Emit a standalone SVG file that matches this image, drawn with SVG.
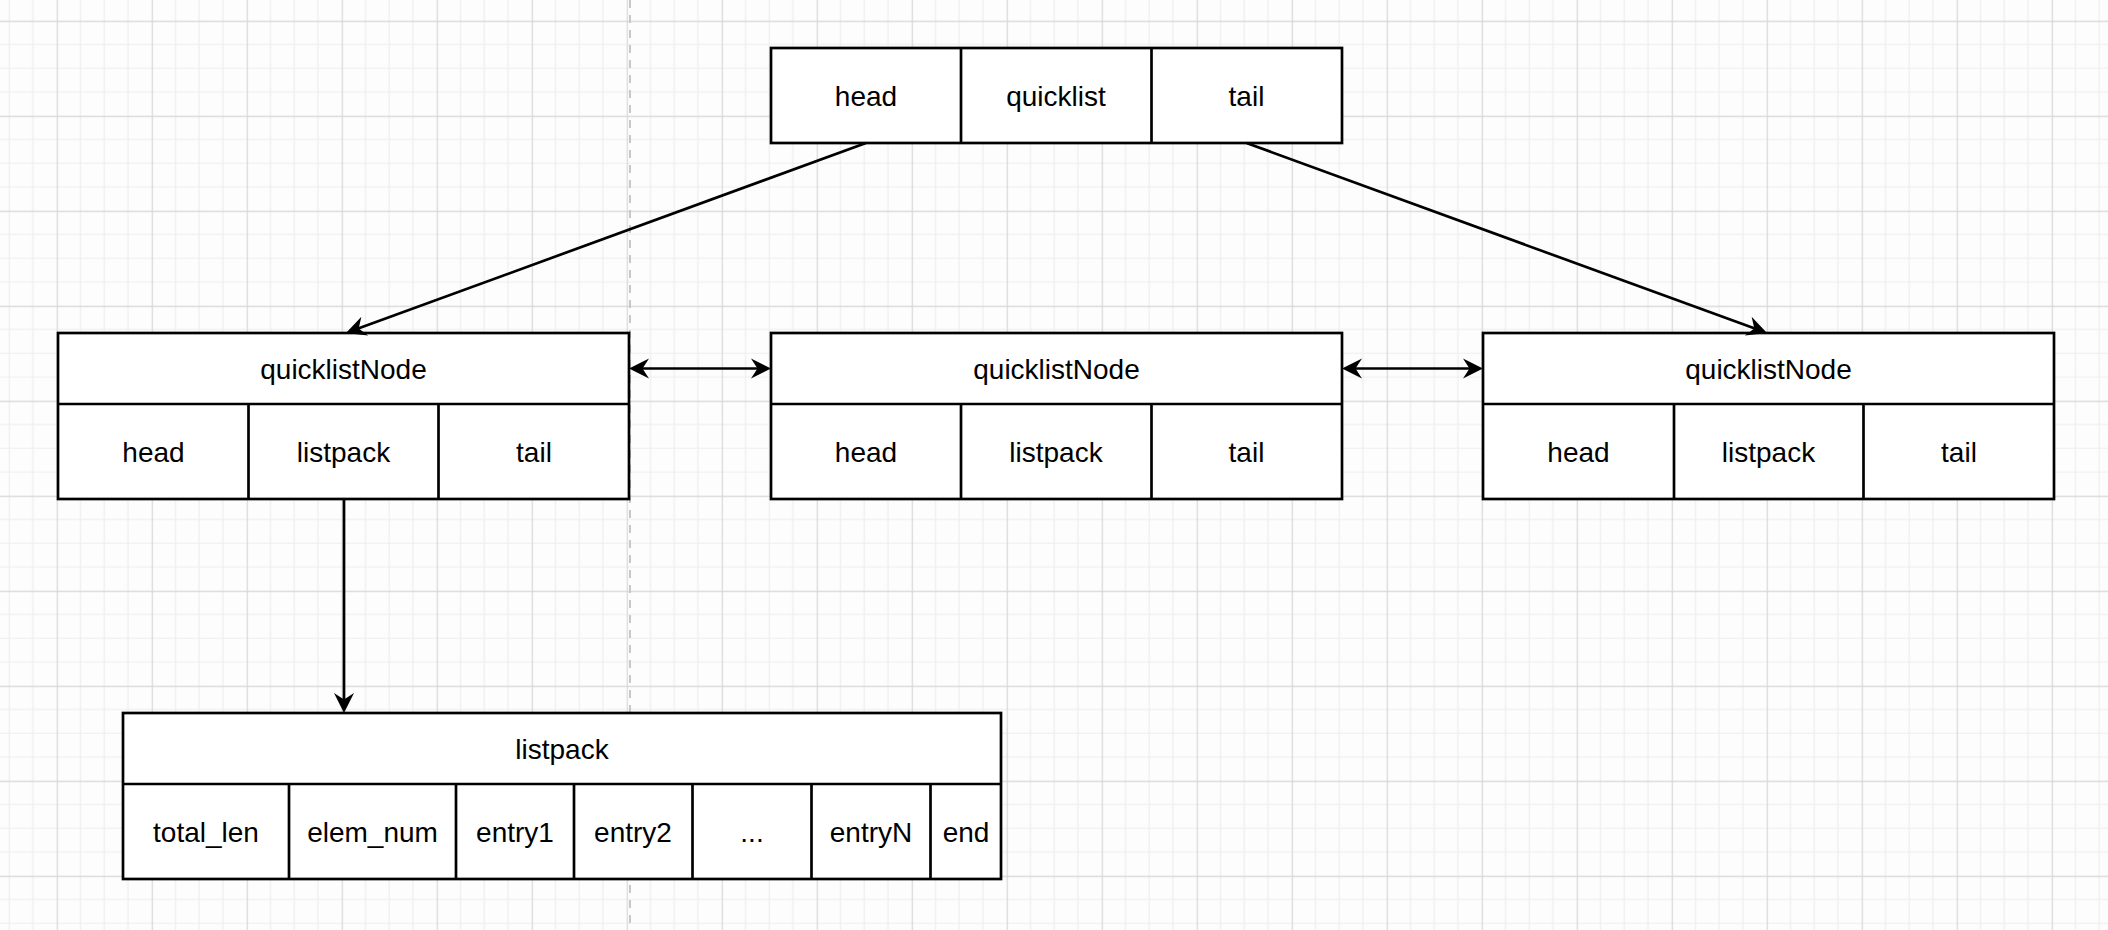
<svg xmlns="http://www.w3.org/2000/svg" width="2108" height="930" viewBox="0 0 2108 930">
  <defs>
    <pattern id="grid" patternUnits="userSpaceOnUse" x="56.7" y="20.7" width="95" height="95">
      <rect width="95" height="95" fill="#fdfdfd"/>
      <path d="M23.75 0V95M47.5 0V95M71.25 0V95M0 23.75H95M0 47.5H95M0 71.25H95" stroke="#eeeeee" stroke-width="1.2" fill="none"/>
      <path d="M0.5 0V95M0 0.5H95" stroke="#d6d6d6" stroke-width="1.3" fill="none"/>
    </pattern>
    <marker id="arr" markerUnits="userSpaceOnUse" markerWidth="22" markerHeight="22" viewBox="0 0 22 22" refX="10" refY="11" orient="auto-start-reverse">
      <path d="M20 11 L0 1 L6.5 11 L0 21 Z" fill="#000"/>
    </marker>
    <style>
      .box rect { fill: #ffffff; stroke: #000; stroke-width: 2.7; }
      .box line { stroke: #000; stroke-width: 2.7; }
      .box text { font-family: "Liberation Sans", Arial, Helvetica, sans-serif; font-size: 28px; fill: #000; text-anchor: middle; }
      .conn path { fill: none; stroke: #000; stroke-width: 2.7; }
    </style>
  </defs>

  <rect x="0" y="0" width="2108" height="930" fill="url(#grid)"/>
  <line x1="630" y1="0" x2="630" y2="930" stroke="#c8c8c8" stroke-width="2" stroke-dasharray="8 7"/>

  <g id="quicklist" class="box">
    <rect x="771" y="48" width="571" height="95"/>
    <line x1="961" y1="48" x2="961" y2="143"/>
    <line x1="1151.5" y1="48" x2="1151.5" y2="143"/>
    <text x="866" y="105.5">head</text>
    <text x="1056" y="105.5">quicklist</text>
    <text x="1246.5" y="105.5">tail</text>
  </g>

  <g id="node1" class="box">
    <rect x="58" y="333" width="571" height="166"/>
    <line x1="58" y1="404" x2="629" y2="404"/>
    <line x1="248.5" y1="404" x2="248.5" y2="499"/>
    <line x1="438.5" y1="404" x2="438.5" y2="499"/>
    <text x="343.5" y="378.5">quicklistNode</text>
    <text x="153.5" y="461.5">head</text>
    <text x="343.5" y="461.5">listpack</text>
    <text x="534" y="461.5">tail</text>
  </g>

  <g id="node2" class="box">
    <rect x="771" y="333" width="571" height="166"/>
    <line x1="771" y1="404" x2="1342" y2="404"/>
    <line x1="961" y1="404" x2="961" y2="499"/>
    <line x1="1151.5" y1="404" x2="1151.5" y2="499"/>
    <text x="1056.5" y="378.5">quicklistNode</text>
    <text x="866" y="461.5">head</text>
    <text x="1056" y="461.5">listpack</text>
    <text x="1246.5" y="461.5">tail</text>
  </g>

  <g id="node3" class="box">
    <rect x="1483" y="333" width="571" height="166"/>
    <line x1="1483" y1="404" x2="2054" y2="404"/>
    <line x1="1674" y1="404" x2="1674" y2="499"/>
    <line x1="1863.5" y1="404" x2="1863.5" y2="499"/>
    <text x="1768.5" y="378.5">quicklistNode</text>
    <text x="1578.5" y="461.5">head</text>
    <text x="1768.5" y="461.5">listpack</text>
    <text x="1959" y="461.5">tail</text>
  </g>

  <g id="listpack" class="box">
    <rect x="123" y="713" width="878" height="166"/>
    <line x1="123" y1="784" x2="1001" y2="784"/>
    <line x1="289" y1="784" x2="289" y2="879"/>
    <line x1="456" y1="784" x2="456" y2="879"/>
    <line x1="574" y1="784" x2="574" y2="879"/>
    <line x1="692.5" y1="784" x2="692.5" y2="879"/>
    <line x1="811.5" y1="784" x2="811.5" y2="879"/>
    <line x1="930.5" y1="784" x2="930.5" y2="879"/>
    <text x="562" y="758.5">listpack</text>
    <text x="206" y="841.5">total_len</text>
    <text x="372.5" y="841.5">elem_num</text>
    <text x="515" y="841.5">entry1</text>
    <text x="633" y="841.5">entry2</text>
    <text x="752" y="841.5">...</text>
    <text x="871" y="841.5">entryN</text>
    <text x="966" y="841.5">end</text>
  </g>

  <g id="connectors" class="conn">
    <path d="M866 143 L355.4 329.6" marker-end="url(#arr)"/>
    <path d="M1246.5 143 L1757.6 329.6" marker-end="url(#arr)"/>
    <path d="M639 368.5 L761 368.5" marker-start="url(#arr)" marker-end="url(#arr)"/>
    <path d="M1352 368.5 L1473 368.5" marker-start="url(#arr)" marker-end="url(#arr)"/>
    <path d="M344 499 L344 703" marker-end="url(#arr)"/>
  </g>
</svg>
